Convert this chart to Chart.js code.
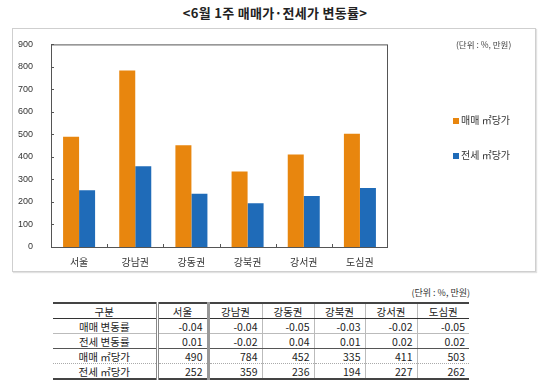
<!DOCTYPE html>
<html>
<head>
<meta charset="utf-8">
<script src="https://cdn.jsdelivr.net/npm/chart.js@4.4.1/dist/chart.umd.min.js"></script>
<style>
    body { margin: 0; width: 550px; height: 385px; background: #fff; position: relative; overflow: hidden;
        font-family: "Noto Sans CJK KR", "Noto Sans", sans-serif; color: #222; }
    #title { position: absolute; top: 4px; left: 0; width: 550px; text-align: center; font-size: 13px; font-weight: bold; line-height: 18px; letter-spacing: 0.3px; }
    #box { position: absolute; left: 12px; top: 28px; width: 522px; height: 242px; border: 1px solid #cfcfcf;
        box-shadow: 1px 1px 1px #e2e2e2; }
    #box canvas { position: absolute; left: 0; top: 0; }
    #unit1 { position: absolute; left: 443px; top: 10px; font-size: 8.5px; color: #444; line-height: 10px; }
    #legend { position: absolute; left: 440px; top: 84px; font-size: 10px; color: #333; }
    #legend div { height: 35px; line-height: 14px; }
    #legend span.sw { display: inline-block; width: 6px; height: 6px; margin-right: 2px; vertical-align: 0px; }
    #unit2 { position: absolute; left: 300px; width: 170px; top: 288px; text-align: right; font-size: 9px; color: #333; line-height: 10px; }
    table { position: absolute; left: 53px; top: 302px; border-collapse: collapse; font-size: 10.5px; table-layout: fixed; }
    td, th { padding: 0 4px; height: 14px; line-height: 13px; font-weight: normal; }
    th { text-align: center; }
    td { text-align: right; }
    td.h { text-align: center; }
    tr.head th { border-top: 2px solid #444; border-bottom: 1px solid #333; }
    tr.r1 td { border-bottom: 1px solid #bbb; }
    tr.r2 td { border-bottom: 1px solid #555; }
    tr.r3 td { border-bottom: 1px dotted #aaa; }
    tr.r4 td { border-bottom: 2px solid #444; }
    .c0 { border-right: 3px double #888; }
    .c1 { border-right: 3px solid #999; }
    .cn { border-right: 1px solid #bbb; }
</style>
</head>
<body>
<div id="title">&lt;6월 1주 매매가·전세가 변동률&gt;</div>
<div id="box">
    <canvas id="chart" width="522" height="242"></canvas>
    <div id="unit1">(단위 : %, 만원)</div>
    <div id="legend"></div>
</div>
<div id="unit2">(단위 : %, 만원)</div>
<table id="tbl"></table>
<script>
const regions = ['서울', '강남권', '강동권', '강북권', '강서권', '도심권'];
const saleChange = ['-0.04', '-0.04', '-0.05', '-0.03', '-0.02', '-0.05'];
const rentChange = ['0.01', '-0.02', '0.04', '0.01', '0.02', '0.02'];
const salePerM2 = [490, 784, 452, 335, 411, 503];
const rentPerM2 = [252, 359, 236, 194, 227, 262];
const yTicks = [0, 100, 200, 300, 400, 500, 600, 700, 800, 900];

const seriesNames = ['매매 ㎡당가', '전세 ㎡당가'];
const seriesColors = ['#E8860E', '#1F6BB8'];

// short inward ticks + full frame around the plot area
const framePlugin = {
    id: 'frame',
    afterDraw(chart) {
        const {ctx, chartArea: a, scales} = chart;
        ctx.save();
        ctx.strokeStyle = '#555';
        ctx.lineWidth = 1;
        ctx.strokeRect(a.left + 0.5, a.top + 0.5, a.right - a.left - 1, a.bottom - a.top);
        ctx.beginPath();
        scales.y.ticks.forEach(t => {
            const y = Math.round(scales.y.getPixelForValue(t.value)) + 0.5;
            ctx.moveTo(a.left, y);
            ctx.lineTo(a.left + 3, y);
        });
        for (let i = 1; i < regions.length; i++) {
            const x = Math.round((scales.x.getPixelForTick(i - 1) + scales.x.getPixelForTick(i)) / 2) + 0.5;
            ctx.moveTo(x, a.bottom);
            ctx.lineTo(x, a.bottom - 3);
        }
        ctx.stroke();
        ctx.restore();
    }
};

new Chart(document.getElementById('chart'), {
    type: 'bar',
    data: {
        labels: regions,
        datasets: [
            { label: seriesNames[0], data: salePerM2, backgroundColor: seriesColors[0] },
            { label: seriesNames[1], data: rentPerM2, backgroundColor: seriesColors[1] },
        ],
    },
    options: {
        responsive: false,
        animation: false,
        events: [],
        layout: { padding: { top: 12, right: 147, left: 0, bottom: 0 } },
        datasets: { bar: { categoryPercentage: 0.57, barPercentage: 1.0 } },
        plugins: { legend: { display: false }, tooltip: { enabled: false } },
        scales: {
            x: {
                grid: { display: false },
                border: { display: false },
                ticks: { color: '#333', padding: 2, font: { size: 10, family: '"Noto Sans CJK KR"', lineHeight: 1.1 } },
                afterFit: s => { s.height = 24; },
            },
            y: {
                min: 0,
                max: 900,
                afterBuildTicks: s => { s.ticks = yTicks.map(v => ({ value: v })); },
                grid: { display: false },
                border: { display: false },
                ticks: { color: '#333', padding: 10, font: { size: 9, family: '"Liberation Sans", Arial' } },
                afterFit: s => { s.width = 38; },
            },
        },
    },
    plugins: [framePlugin],
});

document.getElementById('legend').innerHTML = seriesNames.map((n, i) =>
    `<div><span class="sw" style="background:${seriesColors[i]}"></span>${n}</div>`).join('');

const widths = [104, 51, 54, 52, 51, 52, 52];
const cls = i => i === 0 ? 'c0' : i === 1 ? 'c1' : i < 6 ? 'cn' : '';
let html = '<colgroup>' + widths.map(w => `<col style="width:${w}px">`).join('') + '</colgroup>';
html += '<tr class="head"><th class="c0">구분</th>' + regions.map((r, i) => `<th class="${cls(i + 1)}">${r}</th>`).join('') + '</tr>';
const rows = [['매매 변동률', saleChange], ['전세 변동률', rentChange], ['매매 ㎡당가', salePerM2], ['전세 ㎡당가', rentPerM2]];
rows.forEach(([name, vals], k) => {
    html += `<tr class="r${k + 1}"><td class="h c0">${name}</td>` + vals.map((v, i) => `<td class="${cls(i + 1)}">${v}</td>`).join('') + '</tr>';
});
document.getElementById('tbl').innerHTML = html;
</script>
</body>
</html>
